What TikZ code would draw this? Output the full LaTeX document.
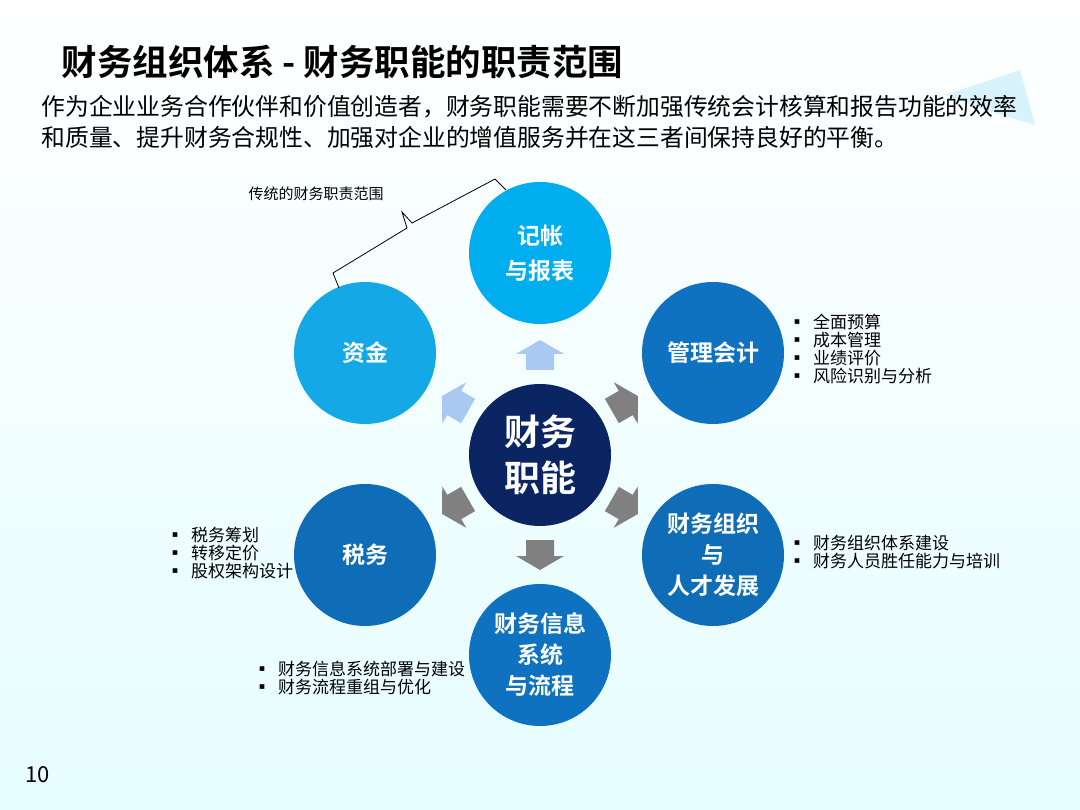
\documentclass[tikz,border=0pt]{standalone}
\usepackage{fontspec}
\setmainfont{Noto Sans CJK SC}
\newfontfamily\cjkb{Noto Sans CJK SC Bold}
\definecolor{navy}{HTML}{0B2563}
\definecolor{cyanA}{HTML}{00AEEF}
\definecolor{cyanB}{HTML}{14A9E6}
\definecolor{blueA}{HTML}{0E72C0}
\definecolor{blueB}{HTML}{0F6CB6}
\definecolor{arrL}{HTML}{A9C8F2}
\definecolor{arrG}{HTML}{808080}
\begin{document}
\begin{tikzpicture}[x=1pt,y=-1pt,
  circ/.style={circle,minimum size=142pt,inner sep=0pt,text=white,font=\cjkb\fontsize{23}{31}\selectfont,align=center},
  lst/.style={anchor=north west,font=\fontsize{17}{18}\selectfont,align=left},
  barr/.pic={\fill[pic actions] (-14,-14) -- (2,-14) -- (2,-24) -- (16,0) -- (2,24) -- (2,14) -- (-14,14) -- cycle;}]
\useasboundingbox (0,0) rectangle (1080,810);
\shade[top color=white,bottom color=blue!8!cyan!10] (0,0) rectangle (1080,810);
\fill[cyan!15] (945,95) -- (1020,70) -- (1035,125) -- (985,110) -- cycle;
\node[anchor=west,font=\cjkb\fontsize{35.5}{38}\selectfont] (title) at (58,62) {财务组织体系 - 财务职能的职责范围};
\node[anchor=north west,align=left,font=\fontsize{23.8}{31}\selectfont] (intro) at (38,92) {作为企业业务合作伙伴和价值创造者，财务职能需要不断加强传统会计核算和报告功能的效率\\和质量、提升财务合规性、加强对企业的增值服务并在这三者间保持良好的平衡。};
\node[circ,fill=navy,font=\cjkb\fontsize{36}{46}\selectfont] (c) at (540,455) {财务\\职能};
\node[circ,fill=cyanA] (t) at (540,253) {记帐\\[4pt]与报表};
\node[circ,fill=cyanB] (zj) at (365,353) {资金};
\node[circ,fill=blueA] (gl) at (713,353) {管理会计};
\node[circ,fill=blueB] (zz) at (713,555) {财务组织\\与\\人才发展};
\node[circ,fill=blueA] (xx) at (540,655) {财务信息\\系统\\与流程};
\node[circ,fill=blueB] (sw) at (365,555) {税务};
\pic[fill=arrL,rotate=90] at (540,356) {barr};
\pic[fill=arrL,rotate=150] at (456,404) {barr};
\pic[fill=arrG,rotate=30] at (624,404) {barr};
\pic[fill=arrG,rotate=-30] at (624,506) {barr};
\pic[fill=arrG,rotate=-90] at (540,554) {barr};
\pic[fill=arrG,rotate=-150] at (456,506) {barr};
\draw[line width=0.8pt] (339,288) -- (333,273) -- (407,228) -- (402,212) -- (412,223) -- (495,179) -- (506,190);
\node[anchor=west,font=\fontsize{15}{17}\selectfont] (lbl) at (245,194) {传统的财务职责范围};
\node[lst] (l1) at (785,311) {▪\ \ 全面预算\\▪\ \ 成本管理\\▪\ \ 业绩评价\\▪\ \ 风险识别与分析};
\node[lst] (l2) at (785,532) {▪\ \ 财务组织体系建设\\▪\ \ 财务人员胜任能力与培训};
\node[lst] (l3) at (163,524) {▪\ \ 税务筹划\\▪\ \ 转移定价\\▪\ \ 股权架构设计};
\node[lst] (l4) at (250,658) {▪\ \ 财务信息系统部署与建设\\▪\ \ 财务流程重组与优化};
\node[anchor=west,font=\fontsize{22}{24}\selectfont] (pg) at (22,775) {10};
\end{tikzpicture}
\end{document}
